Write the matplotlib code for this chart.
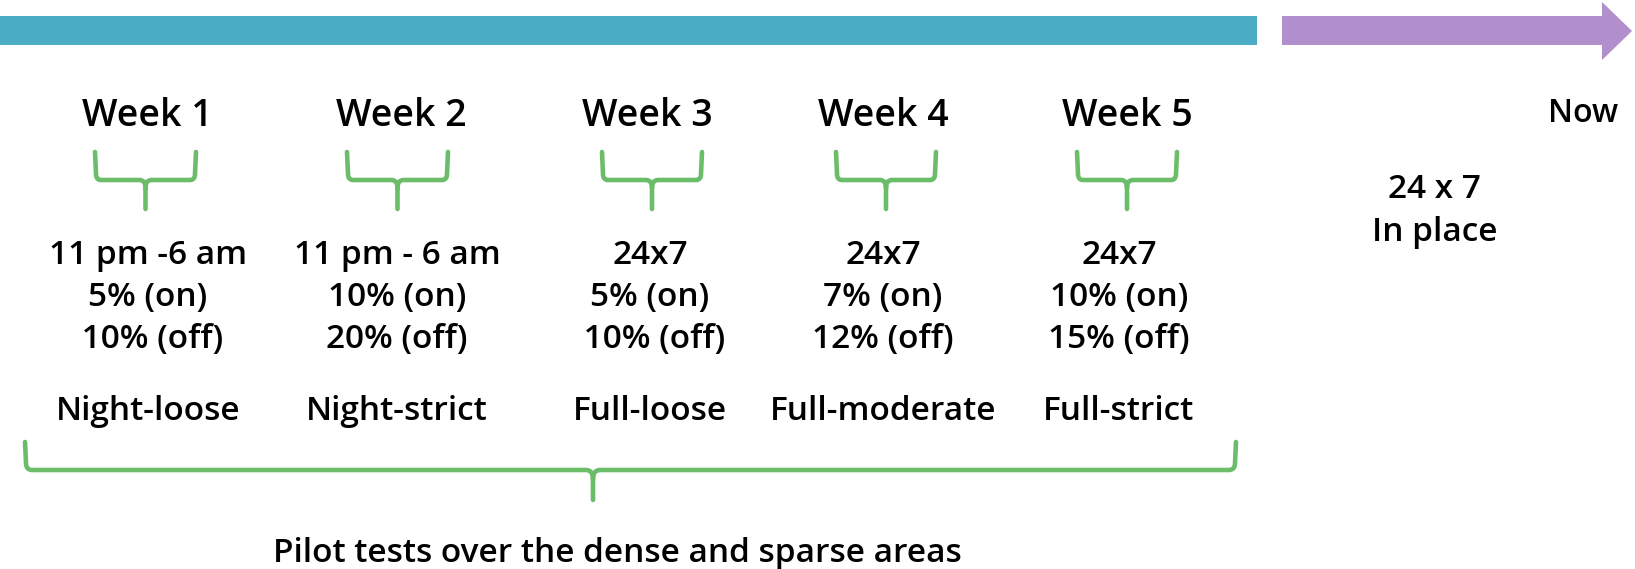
import matplotlib
matplotlib.use('Agg')
import matplotlib.pyplot as plt
from matplotlib.patches import Rectangle, Polygon, PathPatch
from matplotlib.path import Path

# content of the timeline
weeks = ['Week 1', 'Week 2', 'Week 3', 'Week 4', 'Week 5']
hours = ['11 pm -6 am', '11 pm - 6 am', '24x7', '24x7', '24x7']
on_rates = ['5% (on)', '10% (on)', '5% (on)', '7% (on)', '10% (on)']
off_rates = [' 10% (off)', '20% (off)', ' 10% (off)', '12% (off)', '15% (off)']
policies = ['Night-loose', 'Night-strict', 'Full-loose', 'Full-moderate',
            'Full-strict']
now_label = 'Now'
now_text = ['24 x 7', 'In place']
summary = 'Pilot tests over the dense and sparse areas'

# layout (pixel coordinates, y pointing down)
W, H = 1635, 569
title_x = [147, 401, 647, 883, 1127]
text_x = [148, 397, 650, 883, 1119]
brace_spans = [(95, 196), (347, 448), (602, 702), (836, 936), (1077, 1177)]

TEAL = '#4bacc6'
PURPLE = '#b08fcc'
GREEN = '#6cbd6a'
FONT = 'Open Sans'
WEIGHT = 'semibold'


def brace(ax, x0, x1, ytop, ymid, ytip, xc=None, r=6, lw=3.3):
    if xc is None:
        xc = (x0 + x1) / 2
    verts = [(x0, ytop), (x0 + 1, ymid - r), (x0 + 1, ymid), (x0 + r, ymid),
             (xc - r, ymid), (xc, ymid), (xc, ymid + r + 2),
             (xc, ytip),
             (xc, ymid + r + 2), (xc, ymid), (xc + r, ymid),
             (x1 - r, ymid), (x1 - 1, ymid), (x1 - 1, ymid - r), (x1, ytop)]
    codes = [Path.MOVETO, Path.LINETO, Path.CURVE3, Path.CURVE3,
             Path.LINETO, Path.CURVE3, Path.CURVE3,
             Path.LINETO,
             Path.MOVETO, Path.CURVE3, Path.CURVE3,
             Path.LINETO, Path.CURVE3, Path.CURVE3, Path.LINETO]
    ax.add_patch(PathPatch(Path(verts, codes), fill=False, edgecolor=GREEN,
                           lw=lw, capstyle='round', joinstyle='round'))


def label(ax, x, y, s, size=24):
    ax.text(x, y, s, ha='center', va='baseline', fontsize=size,
            family=FONT, fontweight=WEIGHT)


fig = plt.figure(figsize=(W / 100, H / 100), dpi=100)
ax = fig.add_axes([0, 0, 1, 1])
ax.set_xlim(0, W)
ax.set_ylim(H, 0)
ax.axis('off')

# timeline bar and arrow
ax.add_patch(Rectangle((0, 16), 1257, 29, facecolor=TEAL, edgecolor='none'))
shaft_x0, head_x0, tip_x = 1282, 1602, 1632
ax.add_patch(Polygon([(shaft_x0, 16), (head_x0, 16), (head_x0, 2),
                      (tip_x, 31), (head_x0, 60), (head_x0, 45),
                      (shaft_x0, 45)],
                     closed=True, facecolor=PURPLE, edgecolor='none'))

for i, week in enumerate(weeks):
    label(ax, title_x[i], 126, week, size=27)
    x0, x1 = brace_spans[i]
    brace(ax, x0, x1, 152, 180, 209)
    label(ax, text_x[i], 264, hours[i])
    label(ax, text_x[i], 306, on_rates[i])
    label(ax, text_x[i], 348, off_rates[i])
    label(ax, text_x[i], 420, policies[i])

label(ax, 1583, 122, now_label, size=23)
label(ax, 1434, 198, now_text[0])
label(ax, 1435, 241, now_text[1])

# brace over all pilot weeks
brace(ax, 25, 1236, 442, 470, 500, xc=593, r=7)
label(ax, 617, 562, summary)

fig.savefig('out.png', dpi=100)
